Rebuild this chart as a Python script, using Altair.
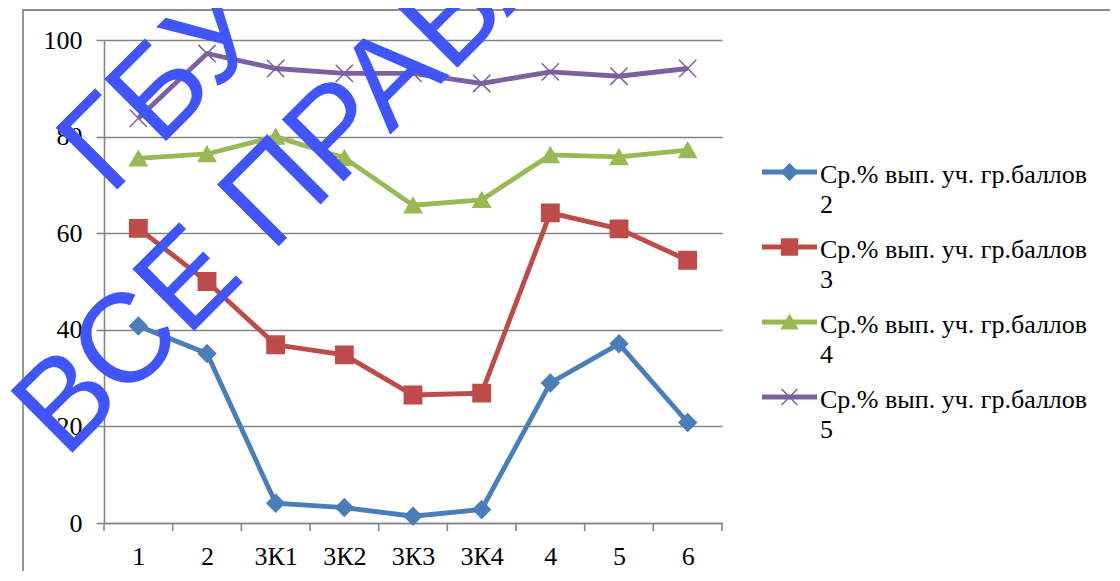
import json
import altair as alt
import pandas as pd

# ---------------- data ----------------
categories = ["1", "2", "3К1", "3К2", "3К3", "3К4", "4", "5", "6"]
series_names = [
    "Ср.% вып. уч. гр.баллов 2",
    "Ср.% вып. уч. гр.баллов 3",
    "Ср.% вып. уч. гр.баллов 4",
    "Ср.% вып. уч. гр.баллов 5",
]
legend_labels = [
    "\u00a0\u00a0Ср.% вып. уч. гр.баллов\n2",
    "\u00a0\u00a0Ср.% вып. уч. гр.баллов\n3",
    "\u00a0\u00a0Ср.% вып. уч. гр.баллов\n4",
    "\u00a0\u00a0Ср.% вып. уч. гр.баллов\n5",
]
values_2 = [40.8, 35.1, 4.1, 3.2, 1.4, 2.8, 29.0, 37.1, 20.8]
values_3 = [61.0, 50.0, 36.9, 34.8, 26.5, 26.9, 64.2, 60.9, 54.4]
values_4 = [75.5, 76.4, 80.0, 75.6, 65.8, 66.9, 76.2, 75.8, 77.2]
values_5 = [83.8, 97.2, 94.1, 93.1, 93.1, 91.0, 93.4, 92.5, 94.1]
y_ticks = [0, 20, 40, 60, 80, 100]
watermark_lines = ["ГБУ", "ВСЕ ПРАВА ЗАЩИЩЕНЫ"]

colors = ["#4A7EBB", "#BE4B48", "#98B954", "#7D60A0"]
shapes = ["diamond", "square", "triangle-up", "M-1,-1L1,1M-1,1L1,-1"]

# ---------------- tables ----------------
rows = []
for name, vals in zip(series_names, [values_2, values_3, values_4, values_5]):
    for i, (c, v) in enumerate(zip(categories, vals)):
        rows.append({"series": name, "cat": c, "idx": i, "value": v})
df = pd.DataFrame(rows)
legend_df = pd.DataFrame({"series": series_names, "label": legend_labels})
bounds_df = pd.DataFrame({"b": [i - 0.5 for i in range(len(categories) + 1)]})

GRID = "#858585"
SERIF = "Liberation Serif, Times New Roman, serif"
FS = 26
W, H = 618, 483

color_scale = alt.Scale(domain=series_names, range=colors)
shape_scale = alt.Scale(domain=series_names, range=shapes)
x_scale = alt.Scale(domain=[-0.5, len(categories) - 0.5], nice=False, zero=False)
y_scale = alt.Scale(domain=[0, 100], nice=False)

label_expr = json.dumps(categories, ensure_ascii=False) + "[datum.value]"

x_enc = alt.X(
    "idx:Q",
    scale=x_scale,
    axis=alt.Axis(
        values=list(range(len(categories))),
        labelExpr=label_expr,
        ticks=False,
        grid=False,
        domain=True,
        domainColor=GRID,
        domainWidth=1.6,
        labelFont=SERIF,
        labelFontSize=FS,
        labelColor="black",
        labelPadding=20,
        labelFlush=False,
        labelOverlap=False,
        title=None,
    ),
)
y_enc = alt.Y(
    "value:Q",
    scale=y_scale,
    axis=alt.Axis(
        values=y_ticks,
        tickSize=8,
        tickColor=GRID,
        tickWidth=1.6,
        grid=True,
        gridColor=GRID,
        gridWidth=1.6,
        domain=True,
        domainColor=GRID,
        domainWidth=1.6,
        labelFont=SERIF,
        labelFontSize=FS,
        labelColor="black",
        labelPadding=14,
        title=None,
    ),
)

base = alt.Chart(df)

frame = alt.Chart(legend_df.head(1)).mark_rect(
    filled=False, stroke="#8c8c8c", strokeWidth=1.8
).encode(
    x=alt.value(-81), x2=alt.value(3000), y=alt.value(-30), y2=alt.value(3000)
)

lines = base.mark_line(strokeWidth=4.8).encode(
    x=x_enc,
    y=y_enc,
    color=alt.Color("series:N", scale=color_scale, legend=None),
    detail="series:N",
)
points = base.mark_point(filled=True, opacity=1, strokeWidth=1.5).encode(
    x="idx:Q",
    y="value:Q",
    color=alt.Color("series:N", scale=color_scale, legend=None),
    stroke=alt.Stroke("series:N", scale=color_scale, legend=None),
    shape=alt.Shape("series:N", scale=shape_scale, legend=None),
    size=alt.value(300),
)
xticks = alt.Chart(bounds_df).mark_rule(color=GRID, strokeWidth=1.6).encode(
    x=alt.X("b:Q", scale=x_scale), y=alt.value(H), y2=alt.value(H + 8)
)

main = alt.layer(frame, lines, points, xticks)

leg_y = alt.Y(
    "series:N",
    scale=alt.Scale(type="point", domain=series_names, padding=0, range=[132, 357]),
    axis=None,
)
leg_line = alt.Chart(legend_df).mark_rule(strokeWidth=4.8).encode(
    x=alt.value(658), x2=alt.value(713), y=leg_y,
    color=alt.Color("series:N", scale=color_scale, legend=None),
)
leg_pt = alt.Chart(legend_df).mark_point(filled=True, opacity=1, strokeWidth=1.5).encode(
    x=alt.value(685.5), y=leg_y,
    color=alt.Color("series:N", scale=color_scale, legend=None),
    stroke=alt.Stroke("series:N", scale=color_scale, legend=None),
    shape=alt.Shape("series:N", scale=shape_scale, legend=None),
    size=alt.value(250),
)
leg_txt = alt.Chart(legend_df).mark_text(
    align="left", baseline="alphabetic", dy=11, font=SERIF, fontSize=FS,
    lineBreak="\n", lineHeight=30, color="black",
).encode(x=alt.value(716), y=leg_y, text="label:N")

legend = alt.layer(leg_line, leg_pt, leg_txt)

wm_df = pd.DataFrame({"t": watermark_lines})
wm1 = alt.Chart(wm_df.iloc[[0]]).mark_text(
    align="left", baseline="alphabetic", angle=315, font="Liberation Sans",
    fontSize=127, color="#4155FE",
).encode(x=alt.value(6), y=alt.value(157), text="t:N")
wm2 = alt.Chart(wm_df.iloc[[1]]).mark_text(
    align="left", baseline="alphabetic", angle=315, font="Liberation Sans",
    fontSize=127, color="#4155FE",
).encode(x=alt.value(-39), y=alt.value(420), text="t:N")
watermark = alt.layer(wm1, wm2)

chart = (
    alt.layer(main, legend, watermark)
    .resolve_scale(y="independent")
    .properties(
        width=W,
        height=H,
        autosize=alt.AutoSizeParams(type="none"),
        padding={"left": 96, "top": 32, "right": 388, "bottom": 48},
        background="white",
    )
    .configure_view(stroke=None)
)

chart.save("out.html", embed_options={"renderer": "svg", "actions": False})
